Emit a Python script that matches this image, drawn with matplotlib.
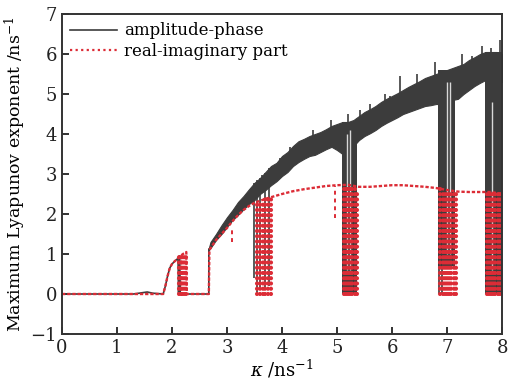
import numpy as np
import matplotlib.pyplot as plt
from matplotlib.lines import Line2D

# amplitude-phase model: thin line part (before chaos onset)
ap_k = [0, 1.3, 1.45, 1.55, 1.65, 1.84, 1.88, 1.92, 1.96, 2.0, 2.05, 2.1, 2.11, 2.12, 2.13, 2.14, 2.15, 2.67, 2.67]
ap_v = [0, 0, 0.03, 0.05, 0.02, 0, 0.2, 0.45, 0.65, 0.75, 0.82, 0.88, 0.9, 0, 0.95, 0.95, 0, 0, 1.12]

# amplitude-phase model: noisy band (lower / upper envelope)
band_k = [2.67, 2.7, 2.8, 2.9, 3.0, 3.1, 3.2, 3.3, 3.4, 3.5, 3.6, 3.7, 3.8, 3.9, 4.0,
          4.1, 4.2, 4.3, 4.4, 4.5, 4.6, 4.7, 4.8, 4.9, 5.0, 5.1, 5.2, 5.3, 5.4, 5.5,
          5.6, 5.7, 5.8, 5.9, 6.0, 6.1, 6.2, 6.3, 6.4, 6.5, 6.6, 6.7, 6.8, 6.9, 7.0,
          7.1, 7.2, 7.3, 7.4, 7.5, 7.6, 7.7, 7.8, 7.9, 8.0]
band_lo = [1.1, 1.15, 1.35, 1.5, 1.68, 1.85, 1.98, 2.12, 2.25, 2.35, 2.5, 2.6, 2.72, 2.82, 2.95,
           3.05, 3.2, 3.3, 3.38, 3.45, 3.48, 3.55, 3.62, 3.68, 3.6, 3.5, 3.6, 3.7, 3.85, 3.95,
           4.02, 4.1, 4.2, 4.28, 4.35, 4.42, 4.5, 4.55, 4.6, 4.65, 4.7, 4.72, 4.75, 4.75, 4.8,
           4.85, 4.88, 5.0, 5.1, 5.2, 5.28, 5.35, 5.35, 5.3, 5.3]
band_hi = [1.15, 1.3, 1.5, 1.72, 1.92, 2.1, 2.3, 2.45, 2.62, 2.78, 2.9, 3.05, 3.2, 3.28, 3.45,
           3.55, 3.7, 3.82, 3.88, 3.95, 4.0, 4.05, 4.12, 4.2, 4.25, 4.3, 4.3, 4.35, 4.45, 4.55,
           4.62, 4.7, 4.8, 4.88, 4.95, 5.02, 5.1, 5.18, 5.25, 5.32, 5.4, 5.45, 5.5, 5.55, 5.6,
           5.65, 5.7, 5.75, 5.85, 5.92, 6.0, 6.05, 6.05, 6.05, 6.0]

spike_k = [3.63, 3.96, 4.15, 4.38, 4.57, 4.9, 5.2, 5.42, 5.6, 5.87, 5.96, 6.15, 6.45, 6.78, 7.27, 7.45, 7.64, 7.8, 7.96]
spike_v = [2.98, 3.4, 3.68, 3.85, 4.1, 4.35, 4.5, 4.6, 4.75, 5.0, 4.95, 5.45, 5.5, 5.8, 6.0, 5.95, 6.2, 6.15, 6.35]

# periodic windows (collapse of the exponent)
win_left = [5.1, 6.84, 7.69]
win_right = [5.37, 7.15, 8.0]
win_bottom = [0.0, 0.7, 0.0]
win_top = [4.3, 5.6, 6.05]

drop_k = [3.49, 3.55, 3.6, 3.69, 3.76, 6.86, 6.9]
drop_bot = [0.4, 0.0, 0.1, 0.1, 0.2, 0.0, 0.0]

gap_k = [5.18, 5.24, 7.0, 7.05, 7.82]
gap_bot = [0.6, 0.6, 1.0, 1.0, 0.6]
gap_top = [4.0, 4.1, 5.3, 5.3, 4.8]

# real-imaginary part model
ri_k = [0, 1.84, 1.88, 1.92, 1.96, 2.0, 2.05, 2.1, 2.15, 2.2, 2.26, 2.27, 2.67, 2.68, 2.8, 2.9,
        3.0, 3.1, 3.2, 3.3, 3.4, 3.5, 3.6, 3.7, 3.8, 4.0, 4.2, 4.4, 4.6, 4.8, 5.0, 5.2, 5.4,
        5.6, 5.8, 6.0, 6.2, 6.4, 6.6, 6.8, 7.0, 7.2, 7.4, 7.6, 7.8, 8.0]
ri_v = [0, 0, 0.2, 0.45, 0.65, 0.75, 0.82, 0.88, 0.95, 1.0, 1.05, 0, 0, 1.1, 1.35, 1.5,
        1.65, 1.82, 1.97, 2.1, 2.2, 2.28, 2.33, 2.38, 2.42, 2.5, 2.57, 2.62, 2.66, 2.7, 2.72, 2.73, 2.68,
        2.68, 2.7, 2.72, 2.72, 2.7, 2.68, 2.65, 2.6, 2.56, 2.55, 2.55, 2.55, 2.5]

ri_drop_k = [2.13, 2.16, 2.19, 2.22, 2.25,
             3.55, 3.6, 3.65, 3.7, 3.75, 3.8,
             5.12, 5.16, 5.2, 5.24, 5.28, 5.32, 5.36,
             6.88, 6.92, 6.96, 7.0, 7.04, 7.08, 7.12, 7.16,
             7.72, 7.76, 7.8, 7.84, 7.88, 7.92, 7.96]
ri_drop_top = [0.92, 0.97, 1.0, 1.03, 1.05,
               2.31, 2.33, 2.35, 2.37, 2.39, 2.41,
               2.73, 2.73, 2.72, 2.71, 2.7, 2.68, 2.62,
               2.64, 2.63, 2.61, 2.6, 2.58, 2.57, 2.56, 2.55,
               2.55, 2.55, 2.55, 2.54, 2.53, 2.52, 2.5]

ri_dash_k = [3.1, 4.97]
ri_dash_bot = [1.3, 1.9]
ri_dash_top = [1.6, 2.7]

black = '#3c3c3c'
red = '#dc2c36'

plt.rcParams['font.family'] = 'DejaVu Serif'
plt.rcParams['mathtext.fontset'] = 'dejavuserif'

fig = plt.figure(figsize=(5.11, 3.86), dpi=100)
ax = fig.add_axes([0.1213, 0.1347, 0.8611, 0.829])

ax.plot(ap_k, ap_v, color=black, lw=1.2)
ax.fill_between(band_k, band_lo, band_hi, color=black, lw=0.8, edgecolor=black)
ax.vlines(spike_k, np.interp(spike_k, band_k, band_lo), spike_v, color=black, lw=1.2)
ax.bar(win_left, np.subtract(win_top, win_bottom), width=np.subtract(win_right, win_left),
       bottom=win_bottom, align='edge', color=black, lw=0)
ax.vlines(drop_k, drop_bot, np.interp(drop_k, band_k, band_hi), color=black, lw=1.2)
ax.vlines(gap_k, gap_bot, gap_top, color='#d8d8d8', lw=1.0)

ax.plot(ri_k, ri_v, color=red, lw=1.7, ls=(0, (1.4, 0.8)))
dots = ax.vlines(ri_drop_k, 0, ri_drop_top, color=red, lw=3.0, linestyles=(0, (0.01, 1.25)))
dots.set_capstyle('round')
ax.vlines(ri_dash_k, ri_dash_bot, ri_dash_top, color=red, lw=1.4, linestyles=(0, (2, 2)))

ax.set_xlim(0, 8)
ax.set_ylim(-1, 7)
ax.set_xticks(range(0, 9))
ax.set_yticks(range(-1, 8))
ax.set_yticklabels(['\u22121'] + [str(i) for i in range(0, 8)])
ax.tick_params(direction='in', length=5, width=1.3, labelsize=13, colors='#222222')
for s in ax.spines.values():
    s.set_linewidth(1.4)
    s.set_color('#333333')

ax.set_xlabel(r'$\kappa$ /ns$^{-1}$', fontsize=13, labelpad=1)
ax.set_ylabel(r'Maximum Lyapunov exponent /ns$^{-1}$', fontsize=12.5, labelpad=2)

handles = [Line2D([], [], color=black, lw=1.2),
           Line2D([], [], color=red, lw=1.6, ls=(0, (1, 1.5)))]
ax.legend(handles, ['amplitude-phase', 'real-imaginary part'], loc='upper left',
          frameon=False, fontsize=12, handlelength=2.8, handletextpad=0.4,
          borderaxespad=0.1, labelspacing=0.2)

fig.savefig('out.png', dpi=100)
